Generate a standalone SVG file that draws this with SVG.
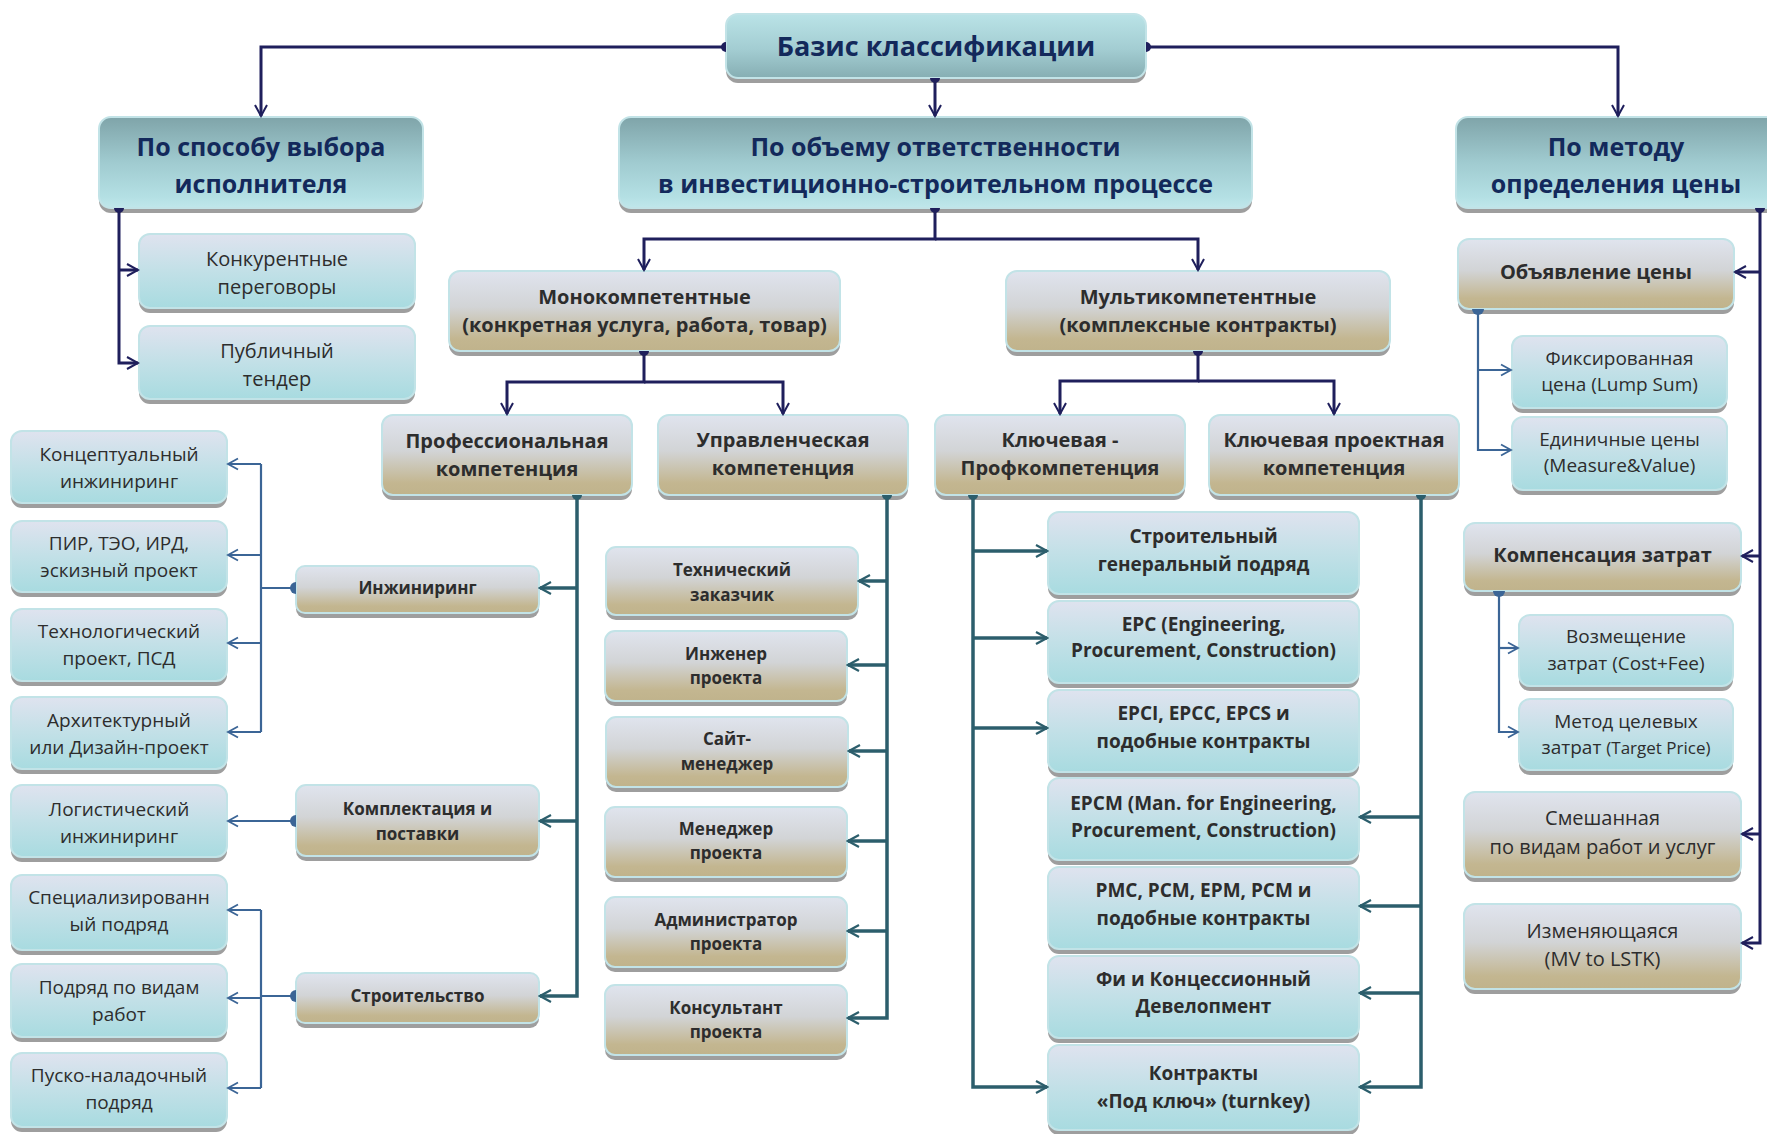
<svg xmlns="http://www.w3.org/2000/svg" width="1767" height="1134" viewBox="0 0 1767 1134">
<defs>
  <linearGradient id="gTop" x1="0" y1="0" x2="0" y2="1">
    <stop offset="0" stop-color="#bae3e7"/><stop offset="0.55" stop-color="#a3cdd2"/><stop offset="1" stop-color="#86aeb3"/>
  </linearGradient>
  <linearGradient id="gHead" x1="0" y1="0" x2="0" y2="1">
    <stop offset="0" stop-color="#7fa4a9"/><stop offset="0.5" stop-color="#a0cbd0"/><stop offset="0.88" stop-color="#b4e0e4"/><stop offset="1" stop-color="#c0e7eb"/>
  </linearGradient>
  <linearGradient id="gBlue" x1="0" y1="0" x2="0" y2="1">
    <stop offset="0" stop-color="#dfe3ef"/><stop offset="0.5" stop-color="#c2e0e7"/><stop offset="1" stop-color="#a8dbe0"/>
  </linearGradient>
  <linearGradient id="gBeige" x1="0" y1="0" x2="0" y2="1">
    <stop offset="0" stop-color="#e0e4ee"/><stop offset="0.45" stop-color="#d2d4d6"/><stop offset="0.85" stop-color="#c3b690"/><stop offset="1" stop-color="#c0b38c"/>
  </linearGradient>
  <marker id="aNv" markerUnits="userSpaceOnUse" markerWidth="16" markerHeight="16" viewBox="-14 -8 16 16" refX="0" refY="0" orient="auto"><path d="M-11,-6 L0,0 L-11,6" fill="none" stroke="#1f1f5c" stroke-width="2"/></marker>
  <marker id="aTl" markerUnits="userSpaceOnUse" markerWidth="16" markerHeight="16" viewBox="-14 -8 16 16" refX="0" refY="0" orient="auto"><path d="M-11,-6 L0,0 L-11,6" fill="none" stroke="#2c5e6c" stroke-width="2.2"/></marker>
  <marker id="aSb" markerUnits="userSpaceOnUse" markerWidth="16" markerHeight="16" viewBox="-14 -8 16 16" refX="0" refY="0" orient="auto"><path d="M-10,-5.5 L0,0 L-10,5.5" fill="none" stroke="#3b6596" stroke-width="1.8"/></marker>
  <marker id="dNv" markerUnits="userSpaceOnUse" markerWidth="14" markerHeight="14" viewBox="-7 -7 14 14" refX="0" refY="0" orient="auto"><path d="M0,-5 A5,5 0 0 1 0,5 Z" fill="#1f1f5c"/></marker>
  <marker id="dTl" markerUnits="userSpaceOnUse" markerWidth="14" markerHeight="14" viewBox="-7 -7 14 14" refX="0" refY="0" orient="auto"><path d="M0,-5 A5,5 0 0 1 0,5 Z" fill="#2c5e6c"/></marker>
  <marker id="dSb" markerUnits="userSpaceOnUse" markerWidth="16" markerHeight="16" viewBox="-8 -8 16 16" refX="0" refY="0" orient="auto"><path d="M0,-6 A6,6 0 0 1 0,6 Z" fill="#3b6596"/></marker>
</defs>
<style>
  .sh{fill:#9e9e9e}
  .bx{stroke:#c2e3e7;stroke-width:2}
  .top{fill:url(#gTop)}
  .head{fill:url(#gHead)}
  .blue{fill:url(#gBlue)}
  .beige{fill:url(#gBeige)}
  text{font-family:"Open Sans","Noto Sans","DejaVu Sans",sans-serif;text-anchor:middle;fill:#2d2d2d}
  .h0{font-size:27px;font-weight:700;fill:#13295b}
  .h1{font-size:25px;font-weight:700;fill:#13295b}
  .h2{font-size:20px;font-weight:700}
  .b19{font-size:19px;font-weight:700}
  .b17{font-size:17px;font-weight:700}
  .r19{font-size:19px}
  .r20{font-size:20px}
  .cn path{fill:none}
  .nv{stroke:#1f1f5c;stroke-width:3}
  .tl{stroke:#2c5e6c;stroke-width:3.5}
  .sb{stroke:#3b6596;stroke-width:2.2}
</style>
<rect width="1767" height="1134" fill="#ffffff"/>

<!-- level 0 -->
<g id="n-basis"><rect class="sh" x="726" y="19" width="420" height="64" rx="12"/><rect class="bx top" x="726" y="14" width="420" height="64" rx="12"/><text class="h0" x="936" y="56">Базис классификации</text></g>

<!-- level 1 -->
<g id="n-selection"><rect class="sh" x="99" y="122" width="324" height="91" rx="12"/><rect class="bx head" x="99" y="117" width="324" height="91" rx="12"/><text class="h1" x="261" y="156">По способу выбора</text><text class="h1" x="261" y="193">исполнителя</text></g>
<g id="n-scope"><rect class="sh" x="619" y="122" width="633" height="91" rx="12"/><rect class="bx head" x="619" y="117" width="633" height="91" rx="12"/><text class="h1" x="935.5" y="156">По объему ответственности</text><text class="h1" x="935.5" y="193">в инвестиционно-строительном процессе</text></g>
<g id="n-pricing"><rect class="sh" x="1456" y="122" width="330" height="91" rx="12"/><rect class="bx head" x="1456" y="117" width="330" height="91" rx="12"/><text class="h1" x="1616" y="156">По методу</text><text class="h1" x="1616" y="193">определения цены</text></g>

<!-- selection method -->
<g id="n-negotiation"><rect class="sh" x="139" y="239" width="276" height="74" rx="11"/><rect class="bx blue" x="139" y="234" width="276" height="74" rx="11"/><text class="r20" x="277" y="266">Конкурентные</text><text class="r20" x="277" y="294">переговоры</text></g>
<g id="n-tender"><rect class="sh" x="139" y="331" width="276" height="73" rx="11"/><rect class="bx blue" x="139" y="326" width="276" height="73" rx="11"/><text class="r20" x="277" y="358">Публичный</text><text class="r20" x="277" y="386">тендер</text></g>

<!-- scope of responsibility -->
<g id="n-mono"><rect class="sh" x="449" y="276" width="391" height="80" rx="11"/><rect class="bx beige" x="449" y="271" width="391" height="80" rx="11"/><text class="h2" x="644.5" y="304">Монокомпетентные</text><text class="h2" x="644.5" y="332">(конкретная услуга, работа, товар)</text></g>
<g id="n-multi"><rect class="sh" x="1006" y="276" width="384" height="80" rx="11"/><rect class="bx beige" x="1006" y="271" width="384" height="80" rx="11"/><text class="h2" x="1198" y="304">Мультикомпетентные</text><text class="h2" x="1198" y="332">(комплексные контракты)</text></g>
<g id="n-prof"><rect class="sh" x="382" y="420" width="250" height="80" rx="11"/><rect class="bx beige" x="382" y="415" width="250" height="80" rx="11"/><text class="h2" x="507" y="448">Профессиональная</text><text class="h2" x="507" y="476">компетенция</text></g>
<g id="n-mgmt"><rect class="sh" x="658" y="420" width="250" height="80" rx="11"/><rect class="bx beige" x="658" y="415" width="250" height="80" rx="11"/><text class="h2" x="783" y="447">Управленческая</text><text class="h2" x="783" y="475">компетенция</text></g>
<g id="n-key-prof"><rect class="sh" x="935" y="420" width="250" height="80" rx="11"/><rect class="bx beige" x="935" y="415" width="250" height="80" rx="11"/><text class="h2" x="1060" y="447">Ключевая -</text><text class="h2" x="1060" y="475">Профкомпетенция</text></g>
<g id="n-key-proj"><rect class="sh" x="1209" y="420" width="250" height="80" rx="11"/><rect class="bx beige" x="1209" y="415" width="250" height="80" rx="11"/><text class="h2" x="1334" y="447">Ключевая проектная</text><text class="h2" x="1334" y="475">компетенция</text></g>

<!-- professional competence -->
<g id="n-eng"><rect class="sh" x="296" y="571" width="243" height="47" rx="9"/><rect class="bx beige" x="296" y="566" width="243" height="47" rx="9"/><text class="b17" x="417.5" y="594">Инжиниринг</text></g>
<g id="n-supply"><rect class="sh" x="296" y="790" width="243" height="71" rx="10"/><rect class="bx beige" x="296" y="785" width="243" height="71" rx="10"/><text class="b17" x="417.5" y="815">Комплектация и</text><text class="b17" x="417.5" y="840">поставки</text></g>
<g id="n-build"><rect class="sh" x="296" y="978" width="243" height="50" rx="9"/><rect class="bx beige" x="296" y="973" width="243" height="50" rx="9"/><text class="b17" x="417.5" y="1002">Строительство</text></g>

<g id="n-concept"><rect class="sh" x="11" y="436" width="216" height="72" rx="11"/><rect class="bx blue" x="11" y="431" width="216" height="72" rx="11"/><text class="r19" x="119" y="461">Концептуальный</text><text class="r19" x="119" y="488">инжиниринг</text></g>
<g id="n-pir"><rect class="sh" x="11" y="526" width="216" height="71" rx="11"/><rect class="bx blue" x="11" y="521" width="216" height="71" rx="11"/><text class="r19" x="119" y="550">ПИР, ТЭО, ИРД,</text><text class="r19" x="119" y="577">эскизный проект</text></g>
<g id="n-techdesign"><rect class="sh" x="11" y="614" width="216" height="72" rx="11"/><rect class="bx blue" x="11" y="609" width="216" height="72" rx="11"/><text class="r19" x="119" y="638">Технологический</text><text class="r19" x="119" y="665">проект, ПСД</text></g>
<g id="n-arch"><rect class="sh" x="11" y="702" width="216" height="72" rx="11"/><rect class="bx blue" x="11" y="697" width="216" height="72" rx="11"/><text class="r19" x="119" y="727">Архитектурный</text><text class="r19" x="119" y="754">или Дизайн-проект</text></g>
<g id="n-logist"><rect class="sh" x="11" y="790" width="216" height="72" rx="11"/><rect class="bx blue" x="11" y="785" width="216" height="72" rx="11"/><text class="r19" x="119" y="816">Логистический</text><text class="r19" x="119" y="843">инжиниринг</text></g>
<g id="n-special"><rect class="sh" x="11" y="880" width="216" height="75" rx="11"/><rect class="bx blue" x="11" y="875" width="216" height="75" rx="11"/><text class="r19" x="119" y="904">Специализированн</text><text class="r19" x="119" y="931">ый подряд</text></g>
<g id="n-trades"><rect class="sh" x="11" y="969" width="216" height="73" rx="11"/><rect class="bx blue" x="11" y="964" width="216" height="73" rx="11"/><text class="r19" x="119" y="994">Подряд по видам</text><text class="r19" x="119" y="1021">работ</text></g>
<g id="n-commission"><rect class="sh" x="11" y="1058" width="216" height="74" rx="11"/><rect class="bx blue" x="11" y="1053" width="216" height="74" rx="11"/><text class="r19" x="119" y="1082">Пуско-наладочный</text><text class="r19" x="119" y="1109">подряд</text></g>

<!-- management competence -->
<g id="n-techcust"><rect class="sh" x="606" y="552" width="252" height="68" rx="10"/><rect class="bx beige" x="606" y="547" width="252" height="68" rx="10"/><text class="b17" x="732" y="576">Технический</text><text class="b17" x="732" y="601">заказчик</text></g>
<g id="n-projeng"><rect class="sh" x="605" y="636" width="242" height="70" rx="10"/><rect class="bx beige" x="605" y="631" width="242" height="70" rx="10"/><text class="b17" x="726" y="660">Инженер</text><text class="b17" x="726" y="684">проекта</text></g>
<g id="n-site"><rect class="sh" x="606" y="722" width="242" height="70" rx="10"/><rect class="bx beige" x="606" y="717" width="242" height="70" rx="10"/><text class="b17" x="727" y="745">Сайт-</text><text class="b17" x="727" y="770">менеджер</text></g>
<g id="n-pm"><rect class="sh" x="605" y="812" width="242" height="70" rx="10"/><rect class="bx beige" x="605" y="807" width="242" height="70" rx="10"/><text class="b17" x="726" y="835">Менеджер</text><text class="b17" x="726" y="859">проекта</text></g>
<g id="n-admin"><rect class="sh" x="605" y="902" width="242" height="70" rx="10"/><rect class="bx beige" x="605" y="897" width="242" height="70" rx="10"/><text class="b17" x="726" y="926">Администратор</text><text class="b17" x="726" y="950">проекта</text></g>
<g id="n-consult"><rect class="sh" x="605" y="990" width="242" height="70" rx="10"/><rect class="bx beige" x="605" y="985" width="242" height="70" rx="10"/><text class="b17" x="726" y="1014">Консультант</text><text class="b17" x="726" y="1038">проекта</text></g>

<!-- key competences: complex contracts -->
<g id="n-gc"><rect class="sh" x="1048" y="517" width="311" height="82" rx="11"/><rect class="bx blue" x="1048" y="512" width="311" height="82" rx="11"/><text class="b19" x="1203.5" y="543">Строительный</text><text class="b19" x="1203.5" y="571">генеральный подряд</text></g>
<g id="n-epc"><rect class="sh" x="1048" y="606" width="311" height="82" rx="11"/><rect class="bx blue" x="1048" y="601" width="311" height="82" rx="11"/><text class="b19" x="1203.5" y="631">EPC (Engineering,</text><text class="b19" x="1203.5" y="657">Procurement, Construction)</text></g>
<g id="n-epci"><rect class="sh" x="1048" y="695" width="311" height="82" rx="11"/><rect class="bx blue" x="1048" y="690" width="311" height="82" rx="11"/><text class="b19" x="1203.5" y="720">EPCI, EPCC, EPCS  и</text><text class="b19" x="1203.5" y="748">подобные контракты</text></g>
<g id="n-epcm"><rect class="sh" x="1048" y="783" width="311" height="82" rx="11"/><rect class="bx blue" x="1048" y="778" width="311" height="82" rx="11"/><text class="b19" x="1203.5" y="810">EPCM (Man. for Engineering,</text><text class="b19" x="1203.5" y="837">Procurement, Construction)</text></g>
<g id="n-pmc"><rect class="sh" x="1048" y="872" width="311" height="82" rx="11"/><rect class="bx blue" x="1048" y="867" width="311" height="82" rx="11"/><text class="b19" x="1203.5" y="897">PMC, PCM, EPM, PCM и</text><text class="b19" x="1203.5" y="925">подобные контракты</text></g>
<g id="n-fi"><rect class="sh" x="1048" y="961" width="311" height="82" rx="11"/><rect class="bx blue" x="1048" y="956" width="311" height="82" rx="11"/><text class="b19" x="1203.5" y="986">Фи и Концессионный</text><text class="b19" x="1203.5" y="1013">Девелопмент</text></g>
<g id="n-turnkey"><rect class="sh" x="1048" y="1050" width="311" height="85" rx="11"/><rect class="bx blue" x="1048" y="1045" width="311" height="85" rx="11"/><text class="b19" x="1203.5" y="1080">Контракты</text><text class="b19" x="1203.5" y="1108">«Под ключ» (turnkey)</text></g>

<!-- pricing method -->
<g id="n-announced"><rect class="sh" x="1458" y="244" width="276" height="70" rx="11"/><rect class="bx beige" x="1458" y="239" width="276" height="70" rx="11"/><text class="h2" x="1596" y="279">Объявление цены</text></g>
<g id="n-lump"><rect class="sh" x="1512" y="341" width="215" height="72" rx="11"/><rect class="bx blue" x="1512" y="336" width="215" height="72" rx="11"/><text class="r19" x="1619.5" y="365">Фиксированная</text><text class="r19" x="1619.5" y="391">цена (Lump Sum)</text></g>
<g id="n-unit"><rect class="sh" x="1512" y="422" width="215" height="73" rx="11"/><rect class="bx blue" x="1512" y="417" width="215" height="73" rx="11"/><text class="r19" x="1619.5" y="446">Единичные цены</text><text class="r19" x="1619.5" y="472">(Measure&amp;Value)</text></g>
<g id="n-cost"><rect class="sh" x="1464" y="528" width="277" height="68" rx="11"/><rect class="bx beige" x="1464" y="523" width="277" height="68" rx="11"/><text class="h2" x="1602.5" y="562">Компенсация затрат</text></g>
<g id="n-costfee"><rect class="sh" x="1519" y="620" width="214" height="71" rx="11"/><rect class="bx blue" x="1519" y="615" width="214" height="71" rx="11"/><text class="r19" x="1626" y="643">Возмещение</text><text class="r19" x="1626" y="670">затрат (Cost+Fee)</text></g>
<g id="n-target"><rect class="sh" x="1519" y="704" width="214" height="71" rx="11"/><rect class="bx blue" x="1519" y="699" width="214" height="71" rx="11"/><text class="r19" x="1626" y="728">Метод целевых</text><text class="r19" x="1626" y="754">затрат <tspan font-size="17">(Target Price)</tspan></text></g>
<g id="n-mixed"><rect class="sh" x="1464" y="797" width="277" height="85" rx="11"/><rect class="bx beige" x="1464" y="792" width="277" height="85" rx="11"/><text class="r20" x="1602.5" y="825">Смешанная</text><text class="r20" x="1602.5" y="854">по видам работ и услуг</text></g>
<g id="n-variable"><rect class="sh" x="1464" y="909" width="277" height="85" rx="11"/><rect class="bx beige" x="1464" y="904" width="277" height="85" rx="11"/><text class="r20" x="1602.5" y="938">Изменяющаяся</text><text class="r20" x="1602.5" y="966">(MV to LSTK)</text></g>

<!-- connectors -->
<g id="connectors" class="cn">
  <!-- from the classification basis -->
  <path class="nv" d="M726,47 H261 V116" marker-start="url(#dNv)" marker-end="url(#aNv)"/>
  <path class="nv" d="M1146,47 H1618 V116" marker-start="url(#dNv)" marker-end="url(#aNv)"/>
  <path class="nv" d="M935,78 V116" marker-start="url(#dNv)" marker-end="url(#aNv)"/>
  <!-- selection method -->
  <path class="nv" d="M119,208 V363 H138" marker-start="url(#dNv)" marker-end="url(#aNv)"/>
  <path class="nv" d="M119,270 H138" marker-end="url(#aNv)"/>
  <!-- scope of responsibility -->
  <path class="nv" d="M935,208 V239 H644 V270" marker-start="url(#dNv)" marker-end="url(#aNv)"/>
  <path class="nv" d="M935,239 H1198 V270" marker-end="url(#aNv)"/>
  <path class="nv" d="M644,351 V382 H507 V414" marker-start="url(#dNv)" marker-end="url(#aNv)"/>
  <path class="nv" d="M644,382 H783 V414" marker-end="url(#aNv)"/>
  <path class="nv" d="M1198,351 V381 H1060 V414" marker-start="url(#dNv)" marker-end="url(#aNv)"/>
  <path class="nv" d="M1198,381 H1334 V414" marker-end="url(#aNv)"/>
  <!-- professional competence -->
  <path class="tl" d="M577,495 V996 H540" marker-start="url(#dTl)" marker-end="url(#aTl)"/>
  <path class="tl" d="M577,588 H540" marker-end="url(#aTl)"/>
  <path class="tl" d="M577,821 H540" marker-end="url(#aTl)"/>
  <!-- management competence -->
  <path class="tl" d="M887,495 V1018 H848" marker-start="url(#dTl)" marker-end="url(#aTl)"/>
  <path class="tl" d="M887,581 H859" marker-end="url(#aTl)"/>
  <path class="tl" d="M887,665 H848" marker-end="url(#aTl)"/>
  <path class="tl" d="M887,751 H849" marker-end="url(#aTl)"/>
  <path class="tl" d="M887,841 H848" marker-end="url(#aTl)"/>
  <path class="tl" d="M887,931 H848" marker-end="url(#aTl)"/>
  <!-- key professional competence -->
  <path class="tl" d="M973,495 V1087 H1047" marker-start="url(#dTl)" marker-end="url(#aTl)"/>
  <path class="tl" d="M973,551 H1047" marker-end="url(#aTl)"/>
  <path class="tl" d="M973,638 H1047" marker-end="url(#aTl)"/>
  <path class="tl" d="M973,728 H1047" marker-end="url(#aTl)"/>
  <!-- key project competence -->
  <path class="tl" d="M1421,495 V1087 H1360" marker-start="url(#dTl)" marker-end="url(#aTl)"/>
  <path class="tl" d="M1421,817 H1360" marker-end="url(#aTl)"/>
  <path class="tl" d="M1421,906 H1360" marker-end="url(#aTl)"/>
  <path class="tl" d="M1421,993 H1360" marker-end="url(#aTl)"/>
  <!-- engineering -->
  <path class="sb" d="M296,588 H261" marker-start="url(#dSb)"/>
  <path class="sb" d="M261,464 V732"/>
  <path class="sb" d="M261,464 H228" marker-end="url(#aSb)"/>
  <path class="sb" d="M261,555 H228" marker-end="url(#aSb)"/>
  <path class="sb" d="M261,643 H228" marker-end="url(#aSb)"/>
  <path class="sb" d="M261,732 H228" marker-end="url(#aSb)"/>
  <!-- supply -->
  <path class="sb" d="M296,821 H228" marker-start="url(#dSb)" marker-end="url(#aSb)"/>
  <!-- construction -->
  <path class="sb" d="M296,996 H261" marker-start="url(#dSb)"/>
  <path class="sb" d="M261,910 V1088"/>
  <path class="sb" d="M261,910 H228" marker-end="url(#aSb)"/>
  <path class="sb" d="M261,998 H228" marker-end="url(#aSb)"/>
  <path class="sb" d="M261,1088 H228" marker-end="url(#aSb)"/>
  <!-- pricing method -->
  <path class="nv" d="M1760,208 V943 H1742" marker-start="url(#dNv)" marker-end="url(#aNv)"/>
  <path class="nv" d="M1760,272 H1735" marker-end="url(#aNv)"/>
  <path class="nv" d="M1760,556 H1742" marker-end="url(#aNv)"/>
  <path class="nv" d="M1760,834 H1742" marker-end="url(#aNv)"/>
  <path class="sb" d="M1478,309 V450 H1511" marker-start="url(#dSb)" marker-end="url(#aSb)"/>
  <path class="sb" d="M1478,370 H1511" marker-end="url(#aSb)"/>
  <path class="sb" d="M1499,591 V732 H1518" marker-start="url(#dSb)" marker-end="url(#aSb)"/>
  <path class="sb" d="M1499,648 H1518" marker-end="url(#aSb)"/>
</g>
</svg>
